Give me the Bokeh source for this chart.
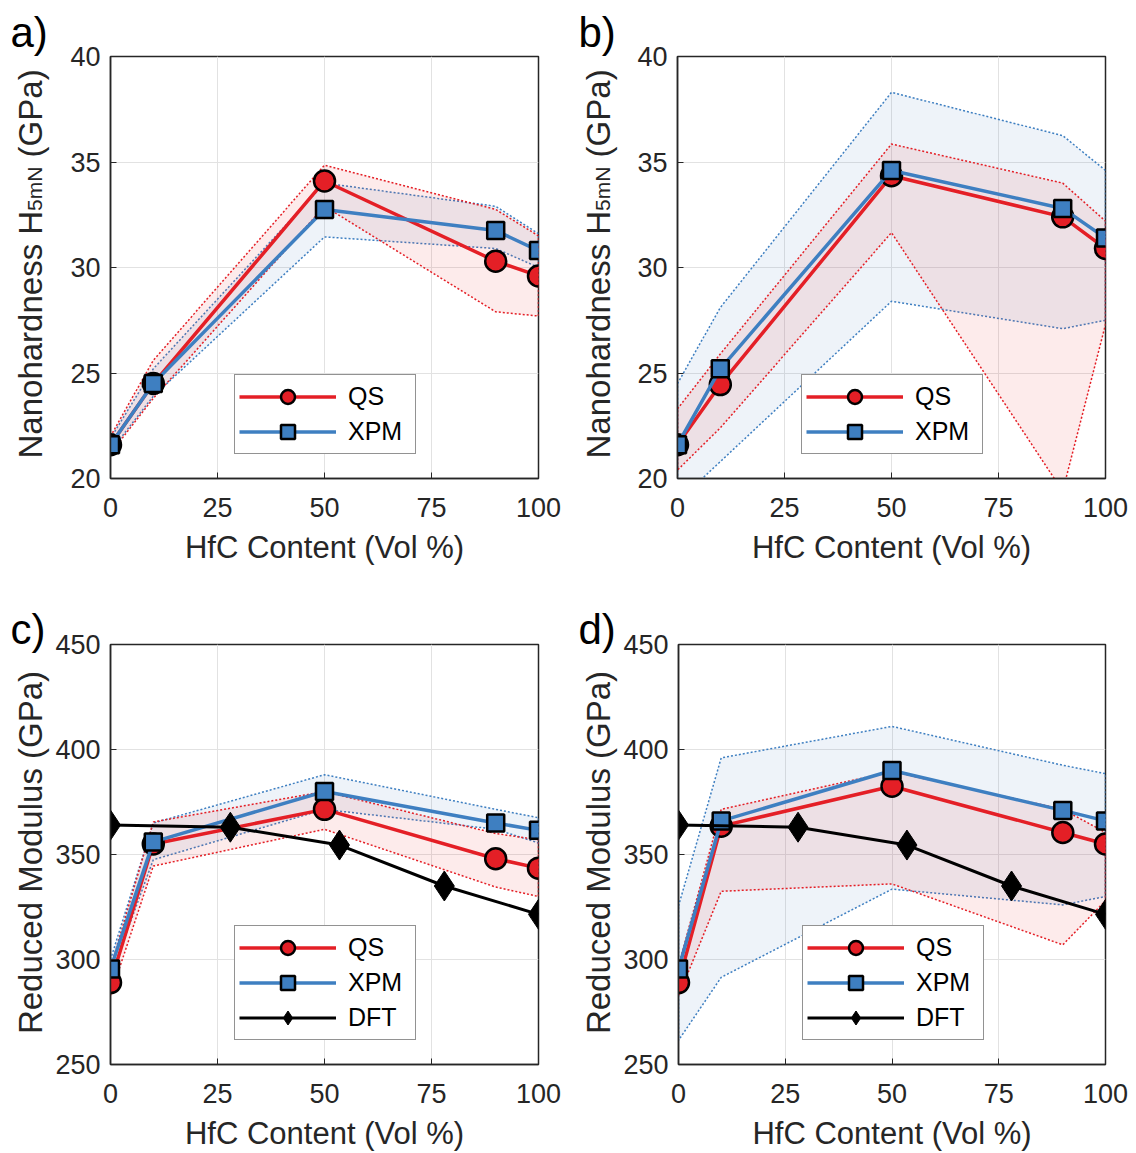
import math
from bokeh.plotting import figure
from bokeh.models import Range1d, Label, Legend, LegendItem, FixedTicker
from bokeh.layouts import row, column
from bokeh.embed import file_html
from bokeh.resources import INLINE

# ---------------- data ----------------
hfc_content = [0, 10, 50, 90, 100]

# a) nanohardness, narrow bands
a_qs = [21.6, 24.5, 34.1, 30.3, 29.6]
a_qs_hi = [22.0, 25.6, 34.85, 32.75, 31.5]
a_qs_lo = [21.2, 23.8, 32.9, 27.9, 27.7]
a_xpm = [21.6, 24.5, 32.75, 31.75, 30.8]
a_xpm_hi = [21.9, 25.2, 34.0, 32.9, 31.6]
a_xpm_lo = [21.3, 23.9, 31.45, 30.9, 30.0]

# b) nanohardness, wide bands
b_qs = [21.6, 24.45, 34.35, 32.4, 30.9]
b_qs_hi = [23.3, 25.9, 35.85, 34.0, 32.2]
b_qs_lo = [20.4, 22.4, 31.65, 19.4, 27.3]
b_xpm = [21.6, 25.2, 34.6, 32.8, 31.4]
b_xpm_hi = [24.5, 28.1, 38.3, 36.25, 34.6]
b_xpm_lo = [18.9, 20.8, 28.4, 27.1, 27.5]

# c) reduced modulus, narrow bands
c_qs = [289, 355, 371.5, 348, 343.5]
c_qs_hi = [296, 365.5, 380, 360, 357]
c_qs_lo = [283, 344.5, 362, 334.5, 330]
c_xpm = [295.5, 356, 380, 365, 361.5]
c_xpm_hi = [300, 365, 388, 371.5, 367.5]
c_xpm_lo = [292, 347.5, 371.5, 362, 355.5]

# d) reduced modulus, wide bands
d_qs = [289, 363.5, 382.5, 360.5, 355]
d_qs_hi = [297, 371.5, 389.5, 371.5, 360.5]
d_qs_lo = [282.5, 332.5, 336, 307, 328]
d_xpm = [295.5, 366, 390, 371, 366]
d_xpm_hi = [325.5, 396, 411, 392.5, 388.5]
d_xpm_lo = [261.5, 291.5, 333.5, 326, 330]

# DFT
dft_x = [0, 28, 53.5, 78, 100]
dft_y = [364, 363, 354.5, 335, 321.5]

x_ticks = [0, 25, 50, 75, 100]
h_ticks = [20, 25, 30, 35, 40]
m_ticks = [250, 300, 350, 400, 450]

# ---------------- style ----------------
RED = "#e41f26"
BLUE = "#3e7fc1"
AX = "#262626"
FONT = "Liberation Sans"
STRIP_W = 52
TOP = 56
LABEL_X = 30


def make_panel(width, height, left, right, bottom, yr, yticks, qs, qs_hi, qs_lo,
               xpm, xpm_hi, xpm_lo, dft=False):
    p = figure(width=width, height=height, x_range=Range1d(0, 100), y_range=Range1d(*yr),
               output_backend="svg", toolbar_location=None,
               min_border_left=left, min_border_right=right,
               min_border_top=TOP, min_border_bottom=bottom)
    p.background_fill_color = "white"
    p.border_fill_color = "white"
    p.outline_line_color = AX
    p.outline_line_width = 1.5

    p.xaxis.ticker = FixedTicker(ticks=x_ticks)
    p.yaxis.ticker = FixedTicker(ticks=yticks)
    for ax in (p.xaxis, p.yaxis):
        ax.major_label_text_font_size = "27px"
        ax.major_label_text_font = FONT
        ax.major_label_text_color = AX
        ax.axis_line_color = AX
        ax.axis_line_width = 1.5
        ax.major_tick_line_color = AX
        ax.major_tick_in = 6
        ax.major_tick_out = 0
        ax.minor_tick_line_color = None
    p.xaxis.major_label_standoff = 19
    p.yaxis.major_label_standoff = 10
    p.xaxis.axis_label = "HfC Content (Vol %)"
    p.xaxis.axis_label_text_font = FONT
    p.xaxis.axis_label_text_font_size = "31px"
    p.xaxis.axis_label_text_font_style = "normal"
    p.xaxis.axis_label_text_color = AX
    p.xaxis.axis_label_standoff = 10

    p.xgrid.ticker = FixedTicker(ticks=x_ticks)
    p.ygrid.ticker = FixedTicker(ticks=yticks)
    p.grid.grid_line_color = "#e2e2e2"
    p.grid.grid_line_width = 1

    # bands
    band_x = hfc_content + hfc_content[::-1]
    p.patch(band_x, xpm_hi + xpm_lo[::-1], fill_color=BLUE, fill_alpha=0.09,
            line_color=BLUE, line_dash="2 2", line_width=1.5)
    p.patch(band_x, qs_hi + qs_lo[::-1], fill_color=RED, fill_alpha=0.09,
            line_color=RED, line_dash="2 2", line_width=1.5)

    ql = p.line(hfc_content, qs, line_color=RED, line_width=3.5)
    qm = p.scatter(hfc_content, qs, marker="circle", size=21, fill_color=RED,
                   line_color="black", line_width=2.5)
    xl = p.line(hfc_content, xpm, line_color=BLUE, line_width=3.5)
    xm = p.scatter(hfc_content, xpm, marker="square", size=17, fill_color=BLUE,
                   line_color="black", line_width=2.5)
    items = [LegendItem(label="QS", renderers=[ql, qm]),
             LegendItem(label="XPM", renderers=[xl, xm])]
    if dft:
        dl = p.line(dft_x, dft_y, line_color="black", line_width=3)
        dm = p.scatter(dft_x, dft_y, marker="diamond", size=30, fill_color="black",
                       line_color="black", line_width=1)
        items.append(LegendItem(label="DFT", renderers=[dl, dm]))

    leg = Legend(items=items, location=(124, 24), margin=0, padding=4, spacing=0,
                 glyph_width=97, glyph_height=35, label_standoff=12, label_width=63,
                 label_text_font=FONT, label_text_font_size="25px", label_text_color="black",
                 border_line_color=AX, border_line_width=1.5,
                 background_fill_color="white", background_fill_alpha=1.0)
    p.add_layout(leg)
    return p


def make_strip(height, bottom, tag, tag_standoff):
    # narrow figure holding the panel tag (title) and the rotated y-axis title;
    # its frame lines up with the neighbouring plot frame, y in pixels from the bottom
    s = figure(width=STRIP_W, height=height, x_range=Range1d(0, STRIP_W),
               y_range=Range1d(bottom, height - TOP), output_backend="svg",
               toolbar_location=None, x_axis_location=None, y_axis_location=None,
               min_border_left=0, min_border_right=0, min_border_top=TOP,
               min_border_bottom=bottom)
    s.outline_line_color = None
    s.background_fill_color = "white"
    s.border_fill_color = "white"
    s.xgrid.visible = False
    s.ygrid.visible = False
    s.title.text = tag
    s.title.align = "left"
    s.title.offset = 10
    s.title.standoff = tag_standoff
    s.title.text_font = FONT
    s.title.text_font_size = "42px"
    s.title.text_font_style = "normal"
    s.title.text_color = "black"
    return s


def add_hardness_label(s, y0):
    main_w = 7.503 * 33
    sub_w = 2.111 * 21
    space_w = 0.278 * 33
    common = dict(angle=math.pi / 2, text_font=FONT,
                  text_color=AX, text_align="left", text_baseline="alphabetic")
    s.add_layout(Label(x=LABEL_X, y=y0, text="Nanohardness H", text_font_size="33px", **common))
    s.add_layout(Label(x=LABEL_X + 4, y=y0 + main_w, text="5mN", text_font_size="21px", **common))
    s.add_layout(Label(x=LABEL_X, y=y0 + main_w + sub_w + space_w, text="(GPa)",
                       text_font_size="33px", **common))


def add_modulus_label(s, yc):
    s.add_layout(Label(x=LABEL_X, y=yc, angle=math.pi / 2, text="Reduced Modulus (GPa)",
                       text_font=FONT, text_font_size="33px", text_color=AX,
                       text_align="center", text_baseline="alphabetic"))


H1, H2 = 588, 565
B1, B2 = 110, 87
pa = make_panel(568 - STRIP_W, H1, 110 - STRIP_W, 30, B1, (20, 40), h_ticks,
                a_qs, a_qs_hi, a_qs_lo, a_xpm, a_xpm_hi, a_xpm_lo)
pb = make_panel(568 - STRIP_W, H1, 109 - STRIP_W, 31, B1, (20, 40), h_ticks,
                b_qs, b_qs_hi, b_qs_lo, b_xpm, b_xpm_hi, b_xpm_lo)
pc = make_panel(568 - STRIP_W, H2, 110 - STRIP_W, 30, B2, (250, 450), m_ticks,
                c_qs, c_qs_hi, c_qs_lo, c_xpm, c_xpm_hi, c_xpm_lo, dft=True)
pd = make_panel(568 - STRIP_W, H2, 109 - STRIP_W, 31, B2, (250, 450), m_ticks,
                d_qs, d_qs_hi, d_qs_lo, d_xpm, d_xpm_hi, d_xpm_lo, dft=True)

sa = make_strip(H1, B1, "a)", 2)
sb = make_strip(H1, B1, "b)", 2)
sc = make_strip(H2, B2, "c)", -16)
sd = make_strip(H2, B2, "d)", -16)
add_hardness_label(sa, H1 - 458)
add_hardness_label(sb, H1 - 458)
add_modulus_label(sc, H2 - (853 - H1))
add_modulus_label(sd, H2 - (853 - H1))

layout = column(row(sa, pa, sb, pb), row(sc, pc, sd, pd))

with open("out.html", "w") as f:
    f.write(file_html(layout, INLINE))
